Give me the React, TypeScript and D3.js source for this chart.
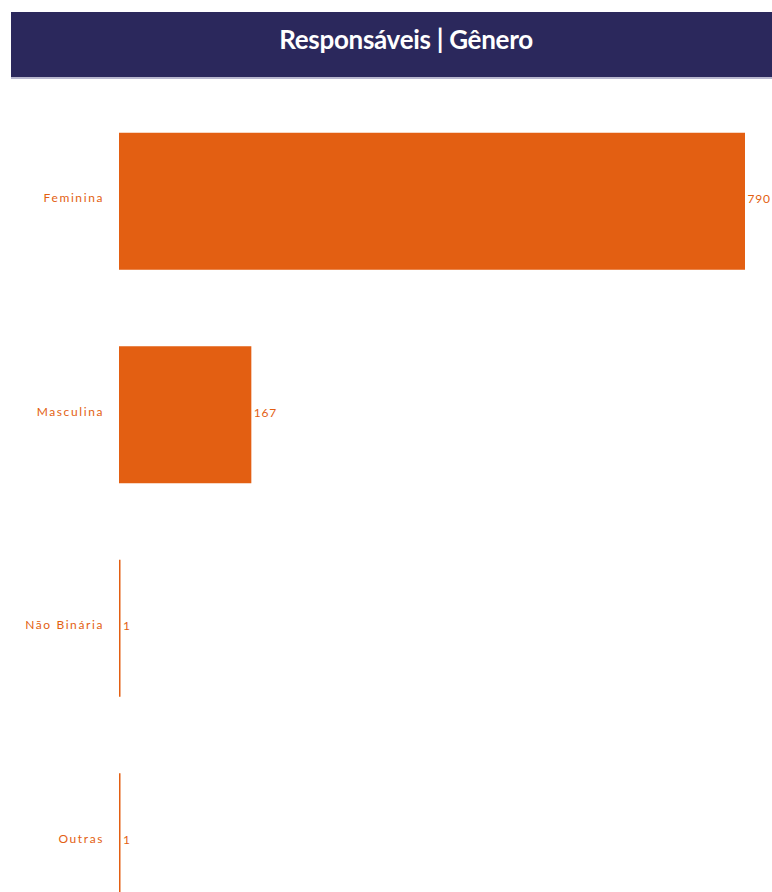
import React from "react";
import * as d3 from "d3";

const categories = ["Feminina", "Masculina", "Não Binária", "Outras"];
const values = [790, 167, 1, 1];
const title = "Responsáveis | Gênero";

const W = 772;
const H = 892;
const ORANGE = "#e35f12";

export default function App() {
  const x = d3.scaleLinear().domain([0, 790]).range([119, 745]);
  const y = d3
    .scaleBand<string>()
    .domain(categories)
    .range([94.5, 948.5])
    .paddingInner(76.5 / 213.5)
    .paddingOuter((76.5 / 213.5) / 2);
  const bw = y.bandwidth();
  return (
    <svg
      width={W}
      height={H}
      style={{ position: "absolute", left: 0, top: 0, display: "block" }}
    >
      <rect x={0} y={0} width={W} height={H} fill="#ffffff" />
      <rect x={11} y={12} width={W - 11} height={66} fill="#2b285c" />
      <rect x={11} y={77} width={W - 11} height={2} fill="#b9b8cf" />
      <text
        x={406}
        y={49}
        textAnchor="middle"
        fill="#ffffff"
        fontFamily="Lato, 'Open Sans', sans-serif"
        fontWeight={700}
        fontSize={26}
        letterSpacing={-0.3}
      >
        {title}
      </text>
      {categories.map((c, i) => {
        const y0 = y(c)!;
        const w = Math.max(1.5, x(values[i]) - x(0));
        return (
          <g key={c}>
            <rect x={x(0)} y={y0} width={w} height={bw} fill={ORANGE} />
            <text
              x={104}
              y={y0 + bw / 2 + 1}
              textAnchor="end"
              fill={ORANGE}
              fontFamily="Lato, 'Open Sans', sans-serif"
              fontSize={12}
              letterSpacing={1.6}
            >
              {c}
            </text>
            <text
              x={x(0) + w + 2.5}
              y={y0 + bw / 2 + 2}
              fill={ORANGE}
              fontFamily="Lato, 'Open Sans', sans-serif"
              fontSize={12}
              letterSpacing={0.8}
            >
              {values[i]}
            </text>
          </g>
        );
      })}
    </svg>
  );
}
